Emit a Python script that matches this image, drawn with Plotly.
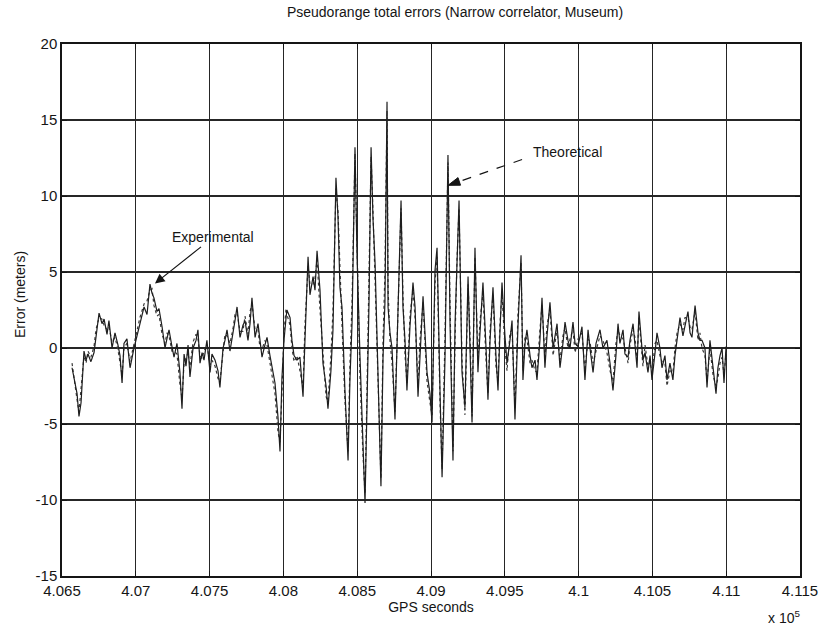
import plotly.graph_objects as go

# ---- data ----
gps_seconds = [
    406568, 406588, 406602, 406615, 406629, 406649, 406663, 406676, 406696, 406717,
    406730, 406751, 406771, 406785, 406805, 406818, 406839, 406859, 406879, 406893,
    406907, 406920, 406940, 406961, 406988, 407008, 407028, 407056, 407076, 407096,
    407110, 407123, 407144, 407157, 407178, 407198, 407211, 407225, 407245, 407259,
    407279, 407299, 407313, 407327, 407340, 407354, 407367, 407388, 407408, 407421,
    407435, 407449, 407462, 407482, 407503, 407516, 407537, 407557, 407570, 407591,
    407604, 407618, 407638, 407659, 407672, 407686, 407706, 407726, 407740, 407760,
    407774, 407787, 407808, 407828, 407841, 407855, 407875, 407889, 407909, 407923,
    407943, 407963, 407977, 407990, 408004, 408018, 408024, 408045, 408058, 408072,
    408092, 408112, 408133, 408146, 408167, 408180, 408201, 408214, 408228, 408248,
    408268, 408289, 408302, 408322, 408336, 408356, 408370, 408383, 408397, 408417,
    408438, 408451, 408465, 408485, 408499, 408519, 408539, 408553, 408566, 408580,
    408594, 408607, 408621, 408641, 408661, 408675, 408688, 408702, 408709, 408722,
    408736, 408756, 408776, 408797, 408810, 408824, 408837, 408858, 408878, 408892,
    408912, 408925, 408946, 408959, 408973, 408993, 409007, 409027, 409041, 409061,
    409075, 409095, 409115, 409129, 409149, 409163, 409176, 409190, 409210, 409230,
    409251, 409264, 409278, 409298, 409318, 409332, 409352, 409373, 409386, 409400,
    409420, 409440, 409454, 409467, 409481, 409501, 409515, 409535, 409549, 409569,
    409589, 409610, 409623, 409637, 409650, 409671, 409684, 409705, 409718, 409738,
    409752, 409772, 409786, 409806, 409827, 409854, 409874, 409894, 409908, 409928,
    409942, 409962, 409976, 409996, 410023, 410043, 410064, 410077, 410098, 410118,
    410145, 410165, 410192, 410213, 410233, 410253, 410267, 410280, 410301, 410314,
    410335, 410348, 410369, 410382, 410396, 410409, 410423, 410436, 410450, 410470,
    410484, 410497, 410518, 410531, 410551, 410565, 410585, 410599, 410619, 410639,
    410653, 410667, 410687, 410707, 410721, 410741, 410755, 410768, 410789, 410809,
    410822, 410836, 410856, 410870, 410890, 410911, 410931, 410944, 410958, 410972,
    410985, 410999,
]

experimental_error = [
    -1.3, -2.2, -3.0, -4.5, -3.6, -0.2, -0.8, -0.4, -0.9, -0.3,
    0.8, 2.3, 1.6, 1.9, 0.9, 1.8, 0.0, 1.0, 0.2, -0.5,
    -2.3, 0.3, 0.6, -1.3, 0.0, 0.8, 1.7, 2.7, 2.2, 4.2,
    3.6, 3.3, 2.4, 2.6, 1.4, 0.0, 0.6, 1.2, 0.1, -0.6,
    0.3, -1.6, -4.0, -0.4, -1.2, 0.2, -1.9, 0.0, 0.5, 1.2,
    -1.0, -0.3, -0.8, 0.5, -1.6, -0.4, -0.8, -1.5, -2.6, 0.0,
    0.5, 1.2, -0.2, 0.9, 1.8, 2.7, 0.7, 1.5, 1.8, 0.5,
    1.6, 3.3, 0.7, 1.6, 0.4, -0.6, 0.2, 0.7, -0.5, -1.3,
    -2.3, -4.5, -6.8, -2.0, 0.5, 2.0, 2.5, 2.0, 0.5, -0.5,
    -0.8, -0.6, -3.2, 0.5, 6.0, 3.5, 4.7, 3.8, 6.4, 3.8,
    -1.0, -2.5, -4.0, -1.5, 1.2, 11.2, 8.6, 4.0, 2.7, -2.8,
    -7.4, -2.0, 1.6, 13.2, 6.0, -0.6, -6.0, -10.2, -4.0, 3.0,
    13.2, 8.5, 5.6, -2.8, -9.1, -0.6, 3.0, 16.2, 2.7, 1.0,
    0.0, -4.7, 1.6, 9.7, 2.7, 0.5, -2.8, 1.5, 4.3, 2.7,
    -3.2, -0.5, 3.4, 1.0, -1.6, -3.0, -4.9, 5.1, 6.6, -2.8,
    -8.5, -0.6, 12.7, 1.6, -7.4, 1.6, 5.0, 9.7, -1.6, -3.9,
    4.7, 0.5, -4.9, 6.6, -1.6, 1.0, 4.3, 0.0, -3.4, 0.5,
    4.0, -0.5, -2.8, 1.0, 4.3, 0.8, -1.0, 0.5, 1.8, -4.7,
    1.4, 6.1, -2.1, 0.3, 1.2, -0.5, -1.3, -0.8, -2.1, 0.5,
    3.3, -1.3, 0.8, 3.0, 0.0, 1.6, -1.3, 0.3, 1.7, 0.5,
    0.0, 1.7, 0.3, 0.1, 1.4, -2.1, 1.2, 0.0, -1.6, 0.3,
    1.2, 0.0, 0.5, -1.0, -2.8, -0.5, 1.6, 0.3, 1.2, -0.4,
    -0.6, 0.5, 1.6, 0.2, -1.3, 2.4, 0.8, -0.8, -0.3, -1.6,
    -0.5, -2.1, -0.3, 1.0, 0.0, -1.3, -0.5, -2.1, -1.0, -2.1,
    -0.5, 0.5, 2.0, 0.8, 1.4, 2.4, 1.0, 0.7, 2.8, 1.0,
    0.5, 0.5, 0.0, -2.6, 0.5, -1.3, -3.0, -1.3, -0.5, 0.0,
    -2.3, 0.1,
]

theoretical_error = [
    -1.0, -2.6, -3.4, -4.2, -2.8, -0.5, -1.0, -0.2, -0.6, 0.1,
    1.2, 2.0, 1.9, 1.5, 1.2, 1.4, 0.4, 0.7, -0.1, -0.9,
    -1.8, 0.0, 0.3, -0.9, 0.3, 1.1, 2.0, 2.9, 3.1, 3.8,
    3.9, 2.8, 2.1, 2.2, 0.9, 0.3, 1.0, 0.8, -0.2, -0.2,
    -0.4, -2.4, -3.3, -1.0, -0.6, -0.3, -1.2, 0.4, 0.9, 0.6,
    -0.5, -0.7, -0.2, 0.2, -1.1, -0.8, -1.2, -2.0, -2.2, -0.4,
    0.9, 0.8, 0.3, 1.3, 2.2, 2.3, 1.1, 1.1, 2.1, 0.9,
    2.4, 2.9, 1.2, 1.2, 0.0, -0.1, 0.5, 0.2, -0.9, -1.8,
    -3.0, -5.5, -6.2, -3.0, 1.0, 2.6, 2.2, 1.5, 0.0, -0.9,
    -0.5, -1.5, -2.6, 1.5, 5.4, 4.2, 4.2, 4.6, 5.8, 2.5,
    -0.2, -3.2, -3.5, -0.5, 2.5, 10.5, 9.0, 5.0, 1.5, -3.5,
    -6.8, -1.0, 3.0, 12.8, 7.5, -2.0, -7.0, -9.6, -3.0, 4.5,
    12.6, 9.0, 4.5, -3.5, -8.6, 0.5, 5.0, 15.6, 4.0, 0.5,
    -1.0, -4.2, 2.5, 9.2, 3.5, -0.5, -2.3, 2.2, 3.8, 2.0,
    -2.6, 0.5, 3.0, 0.2, -2.2, -3.6, -4.4, 4.2, 6.0, -3.6,
    -8.0, 0.8, 12.2, 2.8, -6.8, 0.5, 5.8, 9.2, -0.8, -4.4,
    4.2, 1.0, -4.5, 6.0, -0.8, 1.8, 3.6, -0.8, -3.0, 1.2,
    3.5, -1.2, -2.2, 1.6, 3.6, 0.0, -1.5, 1.0, 1.2, -4.0,
    2.2, 5.6, -1.5, 0.8, 0.6, -1.0, -0.8, -1.5, -1.6, 1.2,
    2.8, -0.6, 1.5, 2.5, -0.5, 1.2, -0.8, 0.8, 1.3, 0.0,
    0.6, 1.2, -0.3, 0.6, 1.0, -1.5, 0.6, 0.4, -1.0, -0.2,
    0.8, 0.5, -0.3, -1.5, -2.2, 0.3, 1.2, 0.8, 0.6, 0.0,
    -1.0, 0.2, 1.2, 0.7, -0.8, 2.0, 0.2, -1.2, 0.2, -1.2,
    -0.9, -1.6, 0.3, 0.5, -0.5, -0.9, -1.0, -2.5, -1.5, -1.6,
    0.0, 1.0, 1.6, 1.2, 2.0, 2.0, 1.4, 1.2, 2.4, 0.5,
    1.0, 0.0, -0.5, -2.2, 0.0, -1.8, -2.5, -2.0, -1.0, -0.6,
    -1.8, -0.3,
]

x_tick_vals = [406500, 407000, 407500, 408000, 408500, 409000,
               409500, 410000, 410500, 411000, 411500]
x_tick_text = ["4.065", "4.07", "4.075", "4.08", "4.085", "4.09",
               "4.095", "4.1", "4.105", "4.11", "4.115"]
y_tick_vals = [-15, -10, -5, 0, 5, 10, 15, 20]
y_tick_text = ["-15", "-10", "-5", "0", "5", "10", "15", "20"]

FONT = "Liberation Sans, Arial, sans-serif"
INK = "#151515"

fig = go.Figure()
fig.add_trace(go.Scatter(x=gps_seconds, y=theoretical_error, mode="lines",
                         name="Theoretical",
                         line=dict(color="#3a3a3a", width=1.2, dash="dot")))
fig.add_trace(go.Scatter(x=gps_seconds, y=experimental_error, mode="lines",
                         name="Experimental",
                         line=dict(color="#1e1e1e", width=1.2)))

fig.update_layout(
    width=829, height=629, autosize=False,
    margin=dict(l=62, r=29, t=44, b=53),
    paper_bgcolor="white", plot_bgcolor="white",
    showlegend=False,
    font=dict(family=FONT, size=15, color=INK),
    title=dict(text="Pseudorange total errors (Narrow correlator, Museum)",
               x=455 / 829, xanchor="center", xref="container",
               y=1 - 12 / 629, yanchor="middle", yref="container",
               font=dict(family=FONT, size=14, color=INK)),
)

fig.update_xaxes(
    range=[406500, 411500], tickmode="array",
    tickvals=x_tick_vals, ticktext=x_tick_text,
    ticks="inside", ticklen=5, tickcolor=INK, tickwidth=1,
    showline=True, linecolor=INK, linewidth=1.5, mirror="ticks",
    showgrid=True, gridcolor="#262626", gridwidth=1.3,
    zeroline=False, tickfont=dict(family=FONT, size=15, color=INK),
    title=dict(text="GPS seconds", standoff=2,
               font=dict(family=FONT, size=14, color=INK)),
)
fig.update_yaxes(
    range=[-15, 20], tickmode="array", tickvals=y_tick_vals,
    ticktext=y_tick_text,
    ticks="inside", ticklen=5, tickcolor=INK, tickwidth=1,
    showline=True, linecolor=INK, linewidth=1.5, mirror="ticks",
    showgrid=True, gridcolor="#262626", gridwidth=1.6,
    zeroline=False, tickfont=dict(family=FONT, size=15, color=INK),
)

# y-axis label and exponent label
fig.add_annotation(text="Error (meters)", xref="paper", yref="paper",
                   x=(20 - 62) / 738, y=(576 - 295) / 532, textangle=-90,
                   xanchor="center", yanchor="middle", showarrow=False,
                   font=dict(family=FONT, size=14, color=INK))
fig.add_annotation(text="x 10<sup>5</sup>", xref="paper", yref="paper",
                   x=(784 - 62) / 738, y=(576 - 617) / 532,
                   xanchor="center", yanchor="middle", showarrow=False,
                   font=dict(family=FONT, size=14, color=INK))

# "Experimental" label with solid arrow
fig.add_annotation(text="Experimental", x=407130, y=4.25, xref="x", yref="y",
                   showarrow=True, ax=58, ay=-46, arrowhead=2, arrowsize=1.6,
                   arrowwidth=1.2, arrowcolor=INK,
                   font=dict(family=FONT, size=14, color=INK))

# "Theoretical" label with dashed leader and filled arrowhead
fig.add_annotation(text="Theoretical", x=409928, y=12.9, xref="x", yref="y",
                   showarrow=False, font=dict(family=FONT, size=14, color=INK))
fig.add_shape(type="line", xref="x", yref="y",
              x0=409617, y0=12.4, x1=409190, y1=10.95,
              line=dict(color=INK, width=1.2, dash="dash"))
fig.add_shape(type="path", xref="x", yref="y",
              path="M 409115,10.7 L 409200,10.71 L 409183,11.21 Z",
              fillcolor=INK, line=dict(color=INK, width=1))

fig.write_html("out.html")
